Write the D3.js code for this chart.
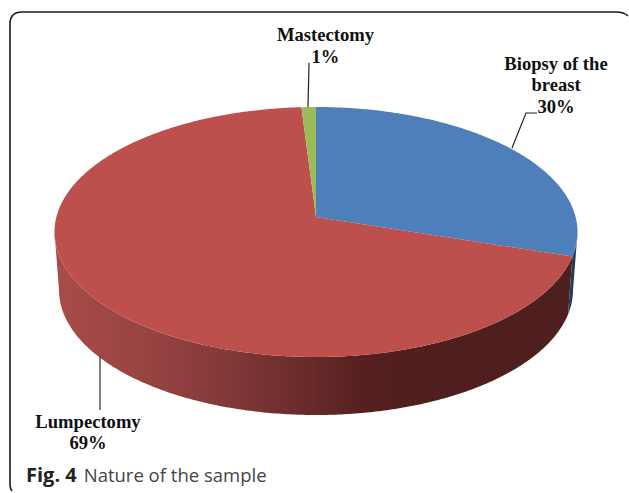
<!DOCTYPE html>
<html><head><meta charset="utf-8">
<script src="https://cdn.jsdelivr.net/npm/d3@7"></script>
<style>html,body{margin:0;padding:0;background:#fff;overflow:hidden}svg{display:block}</style>
</head><body><svg id="c" width="629" height="493"></svg>
<script>
const categories = ["Biopsy of the breast", "Lumpectomy", "Mastectomy"];
const values = [30, 69, 1];
const percentLabels = ["30%", "69%", "1%"];
const topColors = ["#4f7fbb", "#bd4f4c", "#9bbb59"];
const wallColors = ["#1f3d5e", "url(#redWall)", "#6f8a3c"];

const svg = d3.select("#c");

// frame
svg.append("path")
  .attr("d", "M12,491 Q10,489 10,485 L10,24 Q10,12 22,12 L616,12 Q624,12 628,16")
  .attr("fill", "none").attr("stroke", "#1a1a1a").attr("stroke-width", 1.6);

const defs = svg.append("defs");
const gr = defs.append("linearGradient").attr("id", "redWall")
  .attr("gradientUnits", "userSpaceOnUse").attr("x1", 55).attr("x2", 578).attr("y1", 0).attr("y2", 0);
[[0, "#a84c49"], [0.15, "#9a4543"], [0.3, "#873b3a"], [0.44, "#702e2e"], [0.6, "#551f1f"], [0.72, "#4e1f1e"], [1, "#4e1f1e"]]
  .forEach(([o, c]) => gr.append("stop").attr("offset", o).attr("stop-color", c));

// perspective projection of a horizontal disc
const k = 0.12;
const topDisc = {cx: 316, cy: 232, rx: 261.5, ry: 125};
const baseDisc = {cx: 316, cy: 290, rx: 257, ry: 125};
function vPrime(a) { const v = Math.cos(a); return (v + k) / (1 + k * v); }
function project(disc, a, r = 1) {
  const u = r * Math.sin(a), v = r * Math.cos(a);
  const d = 1 + k * v;
  return [disc.cx + disc.rx * u * Math.sqrt(1 - k * k) / d,
          disc.cy - disc.ry * (v + k) / d];
}
const line = d3.line();
const samples = (a0, a1) => { const n = Math.max(2, Math.ceil((a1 - a0) / 0.01)); return d3.range(n + 1).map(i => a0 + (a1 - a0) * i / n); };

const pie = d3.pie().sort(null).value(d => d);
const arcs = pie(values);

// walls: only the part of each slice that faces the viewer
arcs.forEach((s, i) => {
  const front = samples(s.startAngle, s.endAngle).filter(a => vPrime(a) <= 0.001);
  if (front.length < 2) return;
  const pts = front.map(a => project(topDisc, a)).concat(front.slice().reverse().map(a => project(baseDisc, a)));
  svg.append("path").attr("d", line(pts) + "Z").attr("fill", wallColors[i]);
});

// top faces
arcs.forEach((s, i) => {
  const pts = [project(topDisc, 0, 0)].concat(samples(s.startAngle, s.endAngle).map(a => project(topDisc, a)));
  svg.append("path").attr("d", line(pts) + "Z").attr("fill", topColors[i]);
});

// leader lines
const leaders = svg.append("g").attr("fill", "none");
leaders.append("path").attr("d", "M308,107L309,63").attr("stroke", "#222").attr("stroke-width", 1.2);
leaders.append("path").attr("d", "M512,148L526,113L537,113").attr("stroke", "#222").attr("stroke-width", 1.2);
leaders.append("path").attr("d", "M100,356L100,410").attr("stroke", "#555").attr("stroke-width", 1.5);

// labels
const labelLines = [
  {x: 325.5, ys: [41, 63], lines: [categories[2], percentLabels[2]]},
  {x: 556, ys: [70, 91, 113], lines: ["Biopsy of the", "breast", percentLabels[0]]},
  {x: 88, ys: [428, 449], lines: [categories[1], percentLabels[1]]}
];
labelLines.forEach(l => l.lines.forEach((t, j) => {
  svg.append("text").attr("x", l.x).attr("y", l.ys[j]).attr("text-anchor", "middle")
    .attr("font-family", "'Liberation Serif',serif").attr("font-weight", "bold").attr("font-size", 18.6)
    .attr("fill", "#111").text(t);
}));

// caption
const cap = svg.append("text").attr("x", 26).attr("y", 482)
  .attr("font-family", "'Open Sans',sans-serif").attr("font-size", 18.5).attr("fill", "#222");
cap.append("tspan").attr("font-weight", "bold").attr("font-size", 20).text("Fig. 4");
cap.append("tspan").attr("dx", 7).attr("fill", "#444").text("Nature of the sample");
</script></body></html>
